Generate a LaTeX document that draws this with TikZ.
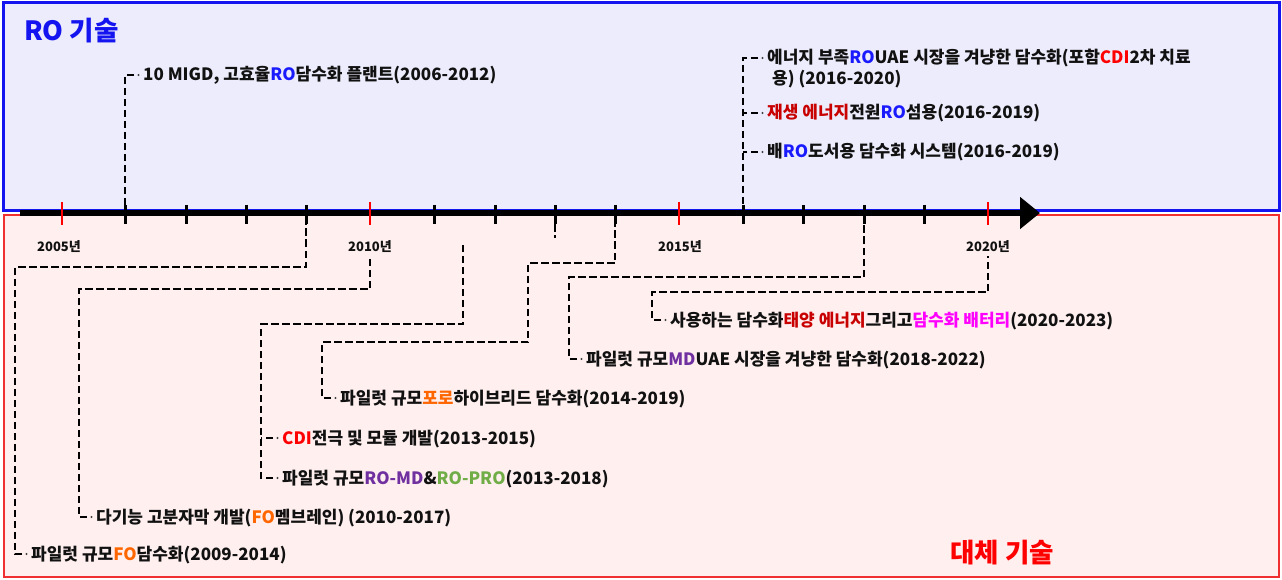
\documentclass[tikz,border=0pt]{standalone}
\usepackage{fontspec}
\setmainfont{Noto Sans CJK KR}
\usetikzlibrary{arrows.meta}
\definecolor{topfill}{HTML}{ECECFC}
\definecolor{botfill}{HTML}{FFEFEF}
\definecolor{topline}{HTML}{1414F0}
\definecolor{botline}{HTML}{F03030}
\definecolor{roblue}{HTML}{1A1AFF}
\definecolor{cdired}{HTML}{FF0000}
\definecolor{dred}{HTML}{C80000}
\definecolor{foorange}{HTML}{FF6600}
\definecolor{mdpurple}{HTML}{7030A0}
\definecolor{progreen}{HTML}{70AD47}
\definecolor{batmag}{HTML}{FF00FF}
\definecolor{txt}{HTML}{111111}
\begin{document}
\begin{tikzpicture}[x=1pt,y=-1pt,
  conn/.style={draw=black, line width=2.8pt, dash pattern=on 7.5pt off 3.5pt},
  item/.style={anchor=west, inner sep=0pt, text=txt,
    font=\fontsize{17}{20}\selectfont\bfseries, text height=14pt, text depth=2pt},
  yearlbl/.style={font=\fontsize{13}{15}\selectfont\bfseries, inner sep=3pt, text=txt},
  redtick/.style={draw=red, line width=2.5pt},
  blktick/.style={draw=black, line width=3pt},
  bdot/.style={fill=black!75},
  ttl/.style={font=\fontsize{26.5}{30}\selectfont\bfseries, inner sep=0pt}
]
\useasboundingbox (0,0) rectangle (1282,580);
% panels
\filldraw[fill=topfill, draw=topline, line width=3pt] (3,3) rectangle (1279.5,211);
\filldraw[fill=botfill, draw=botline, line width=2pt] (4,215) rectangle (1279,577);

\node[ttl, text=topline, anchor=west] (rotitle) at (24,31) {RO 기술};
\node[ttl, text=red, anchor=west] (alttitle) at (950,553) {대체 기술};

% tick coordinates
\foreach \yr/\x in {2005/62,2006/125,2007/186,2008/246,2009/306,2010/370,2011/434,2012/495,
  2013/555,2014/615,2015/679,2016/743,2017/803,2018/864,2019/924,2020/988}
  \coordinate (tk\yr) at (\x,213);

% year labels
\node[yearlbl] (lbl2005) at (59,247) {2005년};
\node[yearlbl] (lbl2010) at (370,247) {2010년};
\node[yearlbl] (lbl2015) at (680,247) {2015년};
\node[yearlbl] (lbl2020) at (988,247) {2020년};

% bend / free-end coordinates
\coordinate (k1) at (15,267);
\coordinate (k2) at (79,289);
\coordinate (k3) at (261,324);
\coordinate (s463) at (463,243);
\coordinate (k4) at (322,342);
\coordinate (k5) at (528,263);
\coordinate (k6) at (569,277);
\coordinate (k7) at (652,292);
\coordinate (stub) at (555,238);

% items - top
\node[item] (t1) at (143,75) {10 MIGD, 고효율\textcolor{roblue}{RO}담수화 플랜트(2006-2012)};
\node[item] (t2) at (767,58) {에너지 부족\textcolor{roblue}{RO}UAE 시장을 겨냥한 담수화(포함\textcolor{cdired}{CDI}2차 치료};
\node[item] (t2b) at (772,79) {용) (2016-2020)};
\node[item] (t3) at (767,113) {\textcolor{dred}{재생 에너지}전원\textcolor{roblue}{RO}섬용(2016-2019)};
\node[item] (t4) at (767,152) {배\textcolor{roblue}{RO}도서용 담수화 시스템(2016-2019)};
% items - bottom
\node[item] (b1) at (31,554) {파일럿 규모\textcolor{foorange}{FO}담수화(2009-2014)};
\node[item] (b2) at (96,517) {다기능 고분자막 개발(\textcolor{foorange}{FO}멤브레인) (2010-2017)};
\node[item] (b3) at (282,438) {\textcolor{cdired}{CDI}전극 및 모듈 개발(2013-2015)};
\node[item] (b4) at (282,478) {파일럿 규모\textcolor{mdpurple}{RO-MD}\&\textcolor{progreen}{RO-PRO}(2013-2018)};
\node[item] (b5) at (340,398) {파일럿 규모\textcolor{foorange}{포로}하이브리드 담수화(2014-2019)};
\node[item] (b6) at (586,359) {파일럿 규모\textcolor{mdpurple}{MD}UAE 시장을 겨냥한 담수화(2018-2022)};
\node[item] (b7) at (670,320) {사용하는 담수화\textcolor{dred}{태양 에너지}그리고\textcolor{batmag}{담수화 배터리}(2020-2023)};

% connectors
\draw[conn] ([xshift=-9pt]t1.west) -| (tk2006);
\draw[conn] ([xshift=-9pt]t2.west) -| (tk2016);
\draw[conn] ([xshift=-9pt]t3.west) -- (t3.west -| tk2016);
\draw[conn] ([xshift=-9pt]t4.west) -- (t4.west -| tk2016);
\draw[conn] ([xshift=-9pt]b1.west) -| (k1) -| (tk2009);
\draw[conn] ([xshift=-9pt]b2.west) -| (k2) -| (lbl2010.south);
\draw[conn] ([xshift=-9pt]b4.west) -| (k3) -| (s463);
\draw[conn] ([xshift=-9pt]b3.west) -- (b3.west -| k3);
\draw[conn] ([xshift=-9pt]b5.west) -| (k4) -| (k5) -| (tk2014);
\draw[conn] ([xshift=-9pt]b6.west) -| (k6) -| (tk2018);
\draw[conn] ([xshift=-9pt]b7.west) -| (k7) -| (lbl2020.south);
\draw[conn] (tk2013) -- (stub);
\foreach \n in {t1,t2,t3,t4,b1,b2,b3,b4,b5,b6,b7}
  \fill[bdot] ([xshift=-4.5pt]\n.west) circle (1.1pt);

% axis
\coordinate (axs) at (20,213);
\coordinate (axe) at (1040,213);
\draw[line width=6.5pt, -{Triangle[length=20pt,width=31pt]}] (axs) -- (axe);
\foreach \x in {125,186,246,306,434,495,555,615,743,803,864,924}
  \draw[blktick] (\x,205) -- (\x,224);
\foreach \x in {62,370,679,988}
  \draw[redtick] (\x,202) -- (\x,225);
\end{tikzpicture}
\end{document}
